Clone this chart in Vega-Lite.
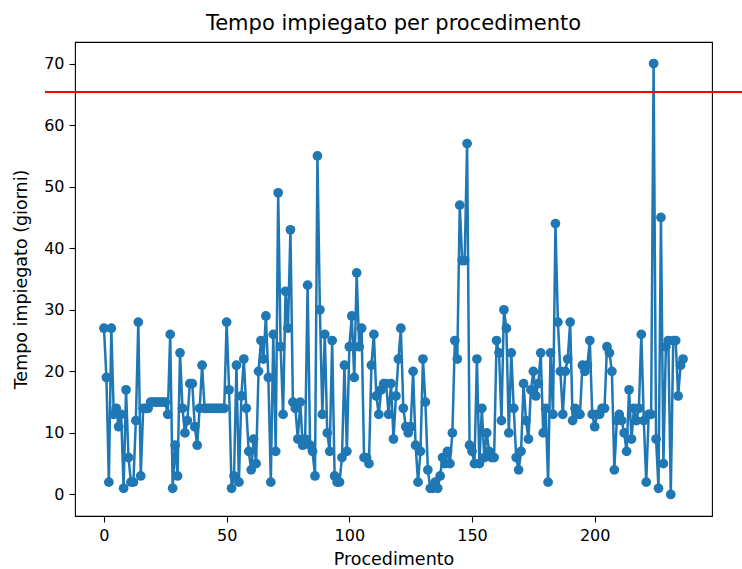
{
  "$schema": "https://vega.github.io/schema/vega-lite/v6.json",
  "autosize": "none",
  "width": 637,
  "height": 474,
  "padding": {"left": 75, "top": 42, "right": 30, "bottom": 53},
  "background": "white",
  "config": {
    "font": "DejaVu Sans",
    "view": {"stroke": "black", "strokeWidth": 1.1},
    "axis": {"grid": false, "domain": false, "tickColor": "black", "tickSize": 6, "tickWidth": 1.1, "labelColor": "black", "labelFontSize": 16, "labelPadding": 5, "titleFontSize": 17.5, "titleFontWeight": "normal", "titleColor": "black", "labelFont": "DejaVu Sans", "titleFont": "DejaVu Sans"}
  },
  "title": {"text": "Tempo impiegato per procedimento", "fontSize": 21, "fontWeight": "normal", "font": "DejaVu Sans", "color": "black", "offset": 8},
  "data": {"values": [
    {"i":0,"v":27},{"i":1,"v":19},{"i":2,"v":2},{"i":3,"v":27},{"i":4,"v":13},{"i":5,"v":14},{"i":6,"v":11},{"i":7,"v":13},{"i":8,"v":1},{"i":9,"v":17},
    {"i":10,"v":6},{"i":11,"v":2},{"i":12,"v":2},{"i":13,"v":12},{"i":14,"v":28},{"i":15,"v":3},{"i":16,"v":14},{"i":17,"v":14},{"i":18,"v":14},{"i":19,"v":15},
    {"i":20,"v":15},{"i":21,"v":15},{"i":22,"v":15},{"i":23,"v":15},{"i":24,"v":15},{"i":25,"v":15},{"i":26,"v":13},{"i":27,"v":26},{"i":28,"v":1},{"i":29,"v":8},
    {"i":30,"v":3},{"i":31,"v":23},{"i":32,"v":14},{"i":33,"v":10},{"i":34,"v":12},{"i":35,"v":18},{"i":36,"v":18},{"i":37,"v":11},{"i":38,"v":8},{"i":39,"v":14},
    {"i":40,"v":21},{"i":41,"v":14},{"i":42,"v":14},{"i":43,"v":14},{"i":44,"v":14},{"i":45,"v":14},{"i":46,"v":14},{"i":47,"v":14},{"i":48,"v":14},{"i":49,"v":14},
    {"i":50,"v":28},{"i":51,"v":17},{"i":52,"v":1},{"i":53,"v":3},{"i":54,"v":21},{"i":55,"v":2},{"i":56,"v":16},{"i":57,"v":22},{"i":58,"v":14},{"i":59,"v":7},
    {"i":60,"v":4},{"i":61,"v":9},{"i":62,"v":5},{"i":63,"v":20},{"i":64,"v":25},{"i":65,"v":22},{"i":66,"v":29},{"i":67,"v":19},{"i":68,"v":2},{"i":69,"v":26},
    {"i":70,"v":7},{"i":71,"v":49},{"i":72,"v":24},{"i":73,"v":13},{"i":74,"v":33},{"i":75,"v":27},{"i":76,"v":43},{"i":77,"v":15},{"i":78,"v":14},{"i":79,"v":9},
    {"i":80,"v":15},{"i":81,"v":8},{"i":82,"v":9},{"i":83,"v":34},{"i":84,"v":8},{"i":85,"v":7},{"i":86,"v":3},{"i":87,"v":55},{"i":88,"v":30},{"i":89,"v":13},
    {"i":90,"v":26},{"i":91,"v":10},{"i":92,"v":7},{"i":93,"v":25},{"i":94,"v":3},{"i":95,"v":2},{"i":96,"v":2},{"i":97,"v":6},{"i":98,"v":21},{"i":99,"v":7},
    {"i":100,"v":24},{"i":101,"v":29},{"i":102,"v":19},{"i":103,"v":36},{"i":104,"v":24},{"i":105,"v":27},{"i":106,"v":6},{"i":107,"v":6},{"i":108,"v":5},{"i":109,"v":21},
    {"i":110,"v":26},{"i":111,"v":16},{"i":112,"v":13},{"i":113,"v":17},{"i":114,"v":18},{"i":115,"v":18},{"i":116,"v":13},{"i":117,"v":18},{"i":118,"v":9},{"i":119,"v":16},
    {"i":120,"v":22},{"i":121,"v":27},{"i":122,"v":14},{"i":123,"v":11},{"i":124,"v":10},{"i":125,"v":11},{"i":126,"v":20},{"i":127,"v":8},{"i":128,"v":2},{"i":129,"v":7},
    {"i":130,"v":22},{"i":131,"v":15},{"i":132,"v":4},{"i":133,"v":1},{"i":134,"v":1},{"i":135,"v":2},{"i":136,"v":1},{"i":137,"v":3},{"i":138,"v":6},{"i":139,"v":5},
    {"i":140,"v":7},{"i":141,"v":5},{"i":142,"v":10},{"i":143,"v":25},{"i":144,"v":22},{"i":145,"v":47},{"i":146,"v":38},{"i":147,"v":38},{"i":148,"v":57},{"i":149,"v":8},
    {"i":150,"v":7},{"i":151,"v":5},{"i":152,"v":22},{"i":153,"v":5},{"i":154,"v":14},{"i":155,"v":6},{"i":156,"v":10},{"i":157,"v":7},{"i":158,"v":6},{"i":159,"v":6},
    {"i":160,"v":25},{"i":161,"v":23},{"i":162,"v":12},{"i":163,"v":30},{"i":164,"v":27},{"i":165,"v":10},{"i":166,"v":23},{"i":167,"v":14},{"i":168,"v":6},{"i":169,"v":4},
    {"i":170,"v":7},{"i":171,"v":18},{"i":172,"v":12},{"i":173,"v":9},{"i":174,"v":17},{"i":175,"v":20},{"i":176,"v":16},{"i":177,"v":18},{"i":178,"v":23},{"i":179,"v":10},
    {"i":180,"v":14},{"i":181,"v":2},{"i":182,"v":23},{"i":183,"v":13},{"i":184,"v":44},{"i":185,"v":28},{"i":186,"v":20},{"i":187,"v":13},{"i":188,"v":20},{"i":189,"v":22},
    {"i":190,"v":28},{"i":191,"v":12},{"i":192,"v":14},{"i":193,"v":13},{"i":194,"v":13},{"i":195,"v":21},{"i":196,"v":20},{"i":197,"v":21},{"i":198,"v":25},{"i":199,"v":13},
    {"i":200,"v":11},{"i":201,"v":13},{"i":202,"v":13},{"i":203,"v":14},{"i":204,"v":14},{"i":205,"v":24},{"i":206,"v":23},{"i":207,"v":20},{"i":208,"v":4},{"i":209,"v":12},
    {"i":210,"v":13},{"i":211,"v":12},{"i":212,"v":10},{"i":213,"v":7},{"i":214,"v":17},{"i":215,"v":9},{"i":216,"v":14},{"i":217,"v":12},{"i":218,"v":14},{"i":219,"v":26},
    {"i":220,"v":12},{"i":221,"v":2},{"i":222,"v":13},{"i":223,"v":13},{"i":224,"v":70},{"i":225,"v":9},{"i":226,"v":1},{"i":227,"v":45},{"i":228,"v":5},{"i":229,"v":24},
    {"i":230,"v":25},{"i":231,"v":0},{"i":232,"v":25},{"i":233,"v":25},{"i":234,"v":16},{"i":235,"v":21},{"i":236,"v":22}
  ]},
  "encoding": {
    "x": {"field": "i", "type": "quantitative", "title": "Procedimento",
          "scale": {"domain": [-11.8, 247.8], "nice": false, "zero": false},
          "axis": {"values": [0, 50, 100, 150, 200], "titlePadding": 7}},
    "y": {"field": "v", "type": "quantitative", "title": "Tempo impiegato (giorni)",
          "scale": {"domain": [-3.5, 73.5], "nice": false, "zero": false},
          "axis": {"values": [0, 10, 20, 30, 40, 50, 60, 70], "titlePadding": 13}}
  },
  "layer": [
    {"mark": {"type": "line", "color": "#1f77b4", "strokeWidth": 2.5, "clip": true}},
    {"mark": {"type": "point", "filled": true, "color": "#1f77b4", "opacity": 1, "size": 95, "clip": true}},
    {"mark": {"type": "rule", "color": "#ff0000", "strokeWidth": 1, "clip": false},
     "encoding": {"x": {"datum": -24}, "x2": {"datum": 262}, "y": {"datum": 65.4}}}
  ]
}
